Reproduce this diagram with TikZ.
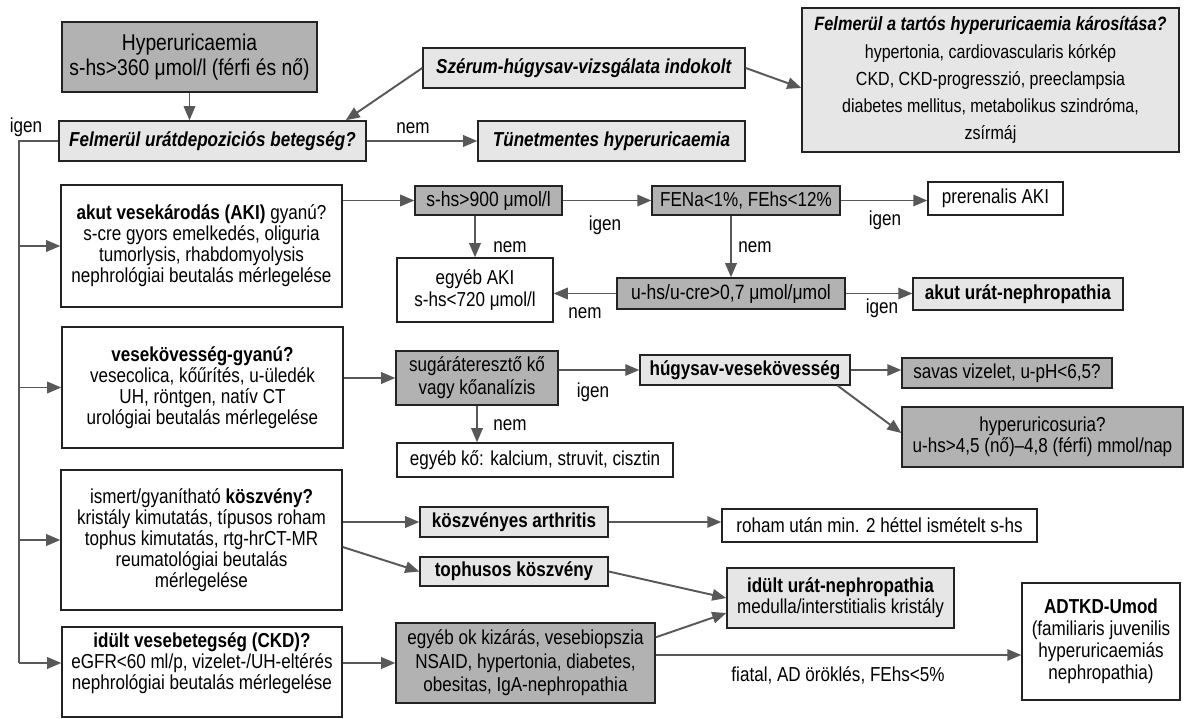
\documentclass[tikz,border=0pt]{standalone}
\usepackage{fontspec}
\setmainfont{Liberation Sans}[FakeStretch=0.845]
\usetikzlibrary{arrows.meta}
\usetikzlibrary{calc}
\usetikzlibrary{positioning}
\definecolor{boxdark}{RGB}{178,178,178}
\definecolor{boxlight}{RGB}{230,230,230}
\definecolor{boxline}{RGB}{35,35,35}
\definecolor{arrgray}{RGB}{88,88,88}
\newcommand{\bfit}[1]{\textbf{\textit{#1}}}
\newcommand{\tightlines}{\lineskiplimit=-8pt\relax}

\begin{document}
\begin{tikzpicture}[x=0.02cm, y=-0.02cm,
        font=\fontsize{11.5}{12}\selectfont\tightlines,
        box/.style={draw=boxline, line width=0.8pt, align=center, inner sep=0pt},
        dark/.style={box, fill=boxdark},
        light/.style={box, fill=boxlight},
        plain/.style={box, fill=white},
        sz/.style 2 args={minimum width=#1*0.02cm, minimum height=#2*0.02cm},
        lead/.style={font=\fontsize{11.5}{#1}\selectfont\tightlines},
        fs/.style 2 args={font=\fontsize{#1}{#2}\selectfont\tightlines},
        arr/.style={draw=arrgray, line width=1.1pt, -{Triangle[length=8pt,width=6.5pt]}},
        lbl/.style={inner sep=0pt}]
        \useasboundingbox (0,0) rectangle (1186,719);
        \fill[white] (0,0) rectangle (1186,719);

        % Top row
        \node[dark, sz={255}{70}, fs={13}{14.2pt}] (hyp) at (189.5,57) {Hyperuricaemia\\s-hs>360 μmol/l (férfi és nő)};
        \node[light, sz={307}{40}] (dep) at (212.5,141) {\bfit{Felmerül urátdepoziciós betegség?}};
        \node[light, sz={322}{40}] (szer) at (584,68) {\bfit{Szérum-húgysav-vizsgálata indokolt}};
        \node[light, sz={267}{40}] (tunet) at (611.5,141) {\bfit{Tünetmentes hyperuricaemia}};
        \node[light, sz={377}{144}, fs={10.8}{15.4pt}] (tartos) at (990.5,80) {{\fontsize{11}{15.4}\selectfont\bfit{Felmerül a tartós hyperuricaemia károsítása?}}\\hypertonia, cardiovascularis kórkép\\CKD, CKD-progresszió, preeclampsia\\diabetes mellitus, metabolikus szindróma,\\zsírmáj};

        % Acute kidney injury
        \node[plain, sz={281}{122}] (aki) at (201.5,246) {\textbf{akut vesekárodás (AKI)} gyanú?\\s-cre gyors emelkedés, oliguria\\tumorlysis, rhabdomyolysis\\nephrológiai beutalás mérlegelése};
        \node[dark, sz={147}{29}, fs={11.8}{13}] (shs) at (488.5,200.5) {s-hs>900 μmol/l};
        \node[dark, sz={188}{29}] (fena) at (746,200.5) {FENa<1\%, FEhs<12\%};
        \node[plain, sz={135}{33}] (prer) at (995.5,198.5) {prerenalis AKI};
        \node[plain, sz={156}{64}] (egyaki) at (475,290) {egyéb AKI\\s-hs<720 μmol/l};
        \node[dark, sz={228}{31}, fs={11.8}{13}] (uhs) at (731,293.5) {u-hs/u-cre>0,7 μmol/μmol};
        \node[light, sz={210}{32}] (akutur) at (1018,294) {\textbf{akut urát-nephropathia}};

        % Kidney stones
        \node[plain, sz={281}{121}] (vese) at (202.5,387.5) {\textbf{vesekövesség-gyanú?}\\vesecolica, kőűrítés, u-üledék\\UH, röntgen, natív CT\\urológiai beutalás mérlegelése};
        \node[dark, sz={162}{54}, lead=13pt] (sugar) at (477,378) {sugáráteresztő kő\\vagy kőanalízis};
        \node[light, sz={210}{30}] (hugy) at (745,370) {\textbf{húgysav-vesekövesség}};
        \node[plain, sz={276}{34}] (egyko) at (535,460) {egyéb kő: kalcium, struvit, cisztin};
        \node[dark, sz={210}{30}] (savas) at (1007,373) {savas vizelet, u-pH<6,5?};
        \node[dark, sz={281}{60}] (uricos) at (1042.5,437) {hyperuricosuria?\\u-hs>4,5 (nő)–4,8 (férfi) mmol/nap};

        % Gout
        \node[plain, sz={281}{140}] (koszv) at (201.5,540) {ismert/gyanítható \textbf{köszvény?}\\kristály kimutatás, típusos roham\\tophus kimutatás, rtg-hrCT-MR\\reumatológiai beutalás\\mérlegelése};
        \node[light, sz={188}{30}] (arthr) at (514,522) {\textbf{köszvényes arthritis}};
        \node[plain, sz={315}{33}] (roham) at (879.5,525.5) {roham után min. 2 héttel ismételt s-hs};
        \node[light, sz={188}{29}] (toph) at (514,571.5) {\textbf{tophusos köszvény}};
        \node[light, sz={227}{60}] (idult) at (840.5,598) {\textbf{idült urát-nephropathia}\\medulla/interstitialis kristály};

        % Chronic kidney disease
        \node[plain, sz={280}{90}] (ckd) at (202,672) {\textbf{idült vesebetegség (CKD)?}\\eGFR<60 ml/p, vizelet-/UH-eltérés\\nephrológiai beutalás mérlegelése\\\mbox{}};
        \node[dark, sz={259}{80}, lead=13.4pt] (egyok) at (525.5,663) {egyéb ok kizárás, vesebiopszia\\NSAID, hypertonia, diabetes,\\obesitas, IgA-nephropathia};
        \node[plain, sz={158}{117}, lead=12.6pt] (adtkd) at (1101,641.5) {\textbf{ADTKD-Umod}\\(familiaris juvenilis\\hyperuricaemiás\\nephropathia)};

        % Connectors
        \coordinate (trk) at (19,0);
        \draw[arr] (hyp.south) -- (hyp.south |- dep.north);
        \draw[arr] (szer.west) -- ($(dep.north east)+(-21,0)$);
        \draw[arr] (szer.east) -- ($(tartos.west)+(0,8)$);
        \draw[arr] (dep.east) -- (tunet.west);
        \node[lbl] (nem0) at (413,128) {nem};
        \node[lbl] (igen0) at (26,127) {igen};

        \draw[arrgray, line width=1.1pt] (dep.west) -- (dep.west -| trk) -- (trk |- egyok);
        \draw[arr] (trk |- egyok) -- (ckd.west |- egyok);
        \foreach \b in {aki, vese, koszv} {
            \draw[arr] (trk |- \b) -- (\b.west);
        }

        \draw[arr] (aki.east |- shs) -- (shs.west);
        \draw[arr] (shs.east) -- (fena.west);
        \node[lbl] (igen1) at (605,225) {igen};
        \draw[arr] (fena.east) -- (prer.west |- fena.east);
        \node[lbl] (igen2) at (885,220) {igen};
        \draw[arr] (egyaki.north |- shs.south) -- (egyaki.north);
        \node[lbl] (nem1) at (510,247) {nem};
        \draw[arr] (uhs.north |- fena.south) -- (uhs.north);
        \node[lbl] (nem2) at (755,247) {nem};
        \draw[arr] (uhs.west) -- (uhs.west -| egyaki.east);
        \node[lbl] (nem3) at (585,313) {nem};
        \draw[arr] (uhs.east) -- (uhs.east -| akutur.west);
        \node[lbl] (igen3) at (882,308) {igen};

        \draw[arr] (vese.east |- sugar) -- (sugar.west);
        \draw[arr] (sugar.east |- hugy) -- (hugy.west);
        \node[lbl] (igen4) at (593,392) {igen};
        \draw[arr] (sugar.south) -- (sugar.south |- egyko.north);
        \node[lbl] (nem4) at (510,425) {nem};
        \draw[arr] (hugy.east) -- (hugy.east -| savas.west);
        \draw[arr] ($(hugy.south east)+(-13,0)$) -- ($(uricos.west)+(0,-4)$);

        \draw[arr] (koszv.east |- arthr) -- (arthr.west);
        \draw[arr] ($(koszv.east)+(0,7)$) -- (toph.west);
        \draw[arr] (arthr.east) -- (arthr.east -| roham.west);
        \draw[arr] (toph.east) -- (idult.west);

        \draw[arr] (ckd.east |- egyok) -- (egyok.west);
        \draw[arr] ($(egyok.north east)+(0,15)$) -- ($(idult.west)+(0,15)$);
        \draw[arr] ($(egyok.east)+(0,-8)$) -- ($(adtkd.west |- egyok.east)+(0,-8)$);
        \node[lbl] (fiatal) at (838,675) {fiatal, AD öröklés, FEhs<5\%};
    \end{tikzpicture}
\end{document}
